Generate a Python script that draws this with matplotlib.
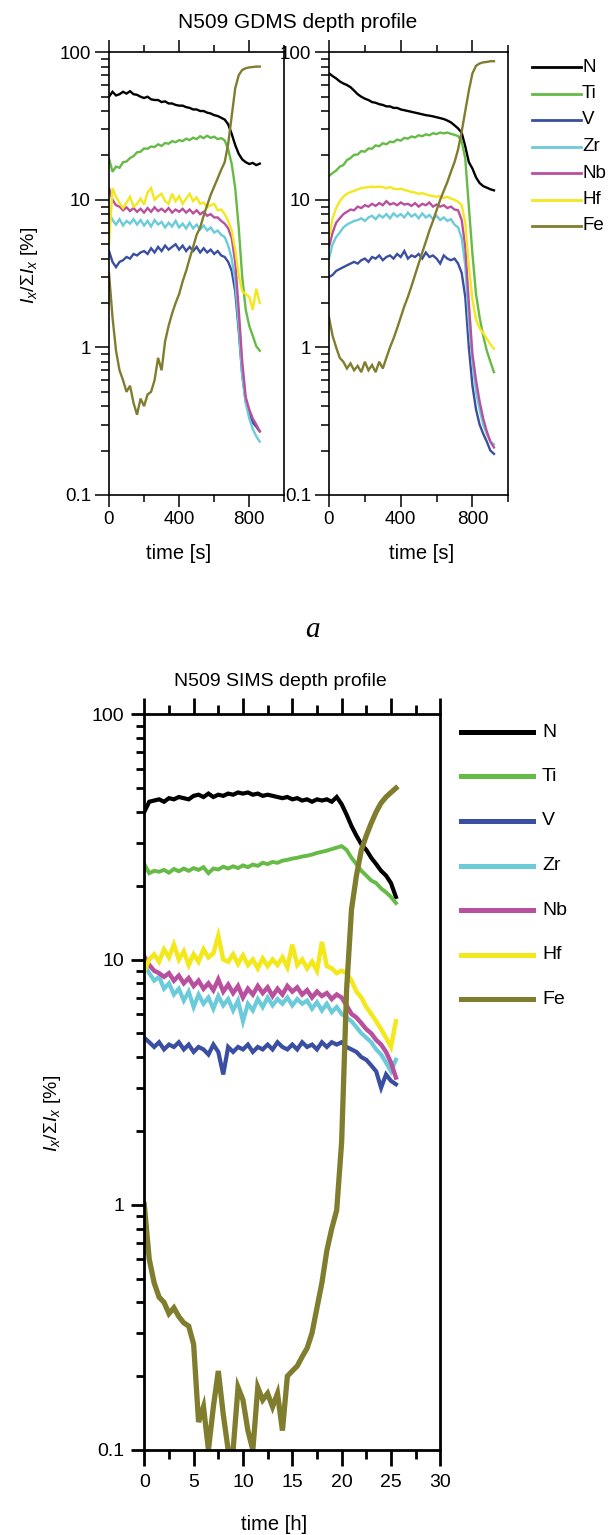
import matplotlib
matplotlib.use('Agg')
import matplotlib.pyplot as plt
from matplotlib.lines import Line2D
from matplotlib.ticker import FixedLocator, FixedFormatter, NullFormatter

plt.rcParams['font.family'] = ['Liberation Sans', 'DejaVu Sans']
plt.rcParams['mathtext.fontset'] = 'custom'
plt.rcParams['mathtext.rm'] = 'Liberation Sans'
plt.rcParams['mathtext.it'] = 'Liberation Sans:italic'
plt.rcParams['mathtext.bf'] = 'Liberation Sans:bold'

# ---------------- data ----------------
elements = ['N', 'Ti', 'V', 'Zr', 'Nb', 'Hf', 'Fe']
colors = ['#000000', '#66bb46', '#3a4ea2', '#6ccbdb', '#b9509e', '#f2e81c', '#807d2e']

# GDMS left panel, time [s]
t1 = list(range(0, 861, 20))
N1 = [50, 54, 51, 52, 54, 52.5, 54.5, 52, 51.5, 50, 49, 50, 48, 47.5, 47.5, 46, 46.5, 45, 45, 44,
      43.5, 43.5, 42.5, 42, 41, 41, 40, 40, 39, 38.5, 37.5, 37, 36, 35, 32.5, 28, 23.5, 20.5, 18.8, 18,
      17.5, 17.8, 17.2, 17.6]
Ti1 = [19, 15.5, 16.8, 16.5, 18, 18.2, 19.2, 19.8, 21, 21.2, 22.3, 22.2, 23, 22.8, 23.8, 23.2, 24.3, 24,
       25, 24.6, 25.4, 25, 26, 25.4, 26.4, 25.8, 27, 26.2, 27.2, 26.3, 26.8, 25.8, 26.2, 25.3, 22, 17.5,
       12, 6.5, 3.0, 1.8, 1.4, 1.2, 1.02, 0.95]
V1 = [4.5, 3.8, 3.5, 3.8, 3.9, 4.1, 4.0, 4.3, 4.2, 4.4, 4.5, 4.3, 4.7, 4.4, 4.8, 4.5, 4.9, 4.6, 4.8, 5.0,
      4.6, 4.9, 4.5, 4.8, 4.5, 4.8, 4.4, 4.7, 4.4, 4.6, 4.3, 4.5, 4.2, 4.1, 3.8, 3.3, 2.4, 1.3, 0.65, 0.43,
      0.36, 0.31, 0.29, 0.27]
Zr1 = [8.2, 7.3, 6.8, 7.4, 6.7, 7.2, 6.9, 7.4, 6.8, 7.3, 6.7, 7.2, 6.6, 7.3, 6.8, 7.1, 6.5, 7.0, 6.6, 7.2,
       6.5, 6.9, 6.4, 7.0, 6.4, 6.8, 6.3, 6.7, 6.2, 6.5, 6.0, 6.2, 5.8, 5.6, 4.9, 4.0, 2.8, 1.4, 0.65, 0.42,
       0.33, 0.28, 0.25, 0.23]
Nb1 = [12, 10, 9.2, 9.0, 8.5, 8.9, 8.4, 8.8, 8.3, 8.7, 8.2, 8.8, 8.3, 8.9, 8.4, 8.7, 8.3, 8.8, 8.2, 8.6,
       8.3, 8.7, 8.2, 8.6, 8.1, 8.5, 8.0, 8.3, 7.8, 8.0, 7.6, 7.6, 7.2, 6.9, 6.4, 5.5, 3.8, 1.8, 0.8, 0.46,
       0.38, 0.33, 0.3, 0.27]
Hf1 = [5, 12, 10.5, 9.5, 8.8, 9.6, 10.5, 9.0, 9.4, 10.2, 9.3, 11.2, 12, 10, 10.6, 11, 9.8, 9.4, 11, 9.8,
       10.6, 9.4, 10.2, 11, 9.8, 10.4, 9.4, 9.6, 8.9, 9.2, 9.4, 8.5, 8.6, 8.0, 7.2, 6.2, 4.6, 3.1, 2.4, 2.3,
       2.2, 1.8, 2.5, 2.0]
Fe1 = [3.2, 1.6, 0.95, 0.7, 0.6, 0.5, 0.55, 0.42, 0.35, 0.45, 0.4, 0.48, 0.5, 0.6, 0.85, 0.7, 1.1, 1.4,
       1.7, 2.0, 2.3, 2.8, 3.3, 4.0, 4.8, 5.8, 6.5, 7.8, 9.2, 10.8, 12.3, 14, 16, 18, 24, 37, 57, 70, 76,
       78, 79, 79.5, 80, 80]

# GDMS right panel, time [s]
t2 = list(range(0, 921, 20))
N2 = [72, 69, 66.5, 63.5, 61.5, 60, 58, 55, 52, 50, 48.5, 47.5, 46, 45.5, 44.5, 44, 43, 43, 42, 42, 41,
      40.5, 40, 39.5, 39, 38.5, 38, 37.5, 37.2, 36.8, 36.3, 35.8, 35.3, 34.5, 33.5, 32, 30.5, 28.5, 23, 18,
      16.3, 14.2, 13, 12.4, 12.1, 11.8, 11.6]
Ti2 = [14.5, 15.2, 15.8, 16.8, 17.2, 18.6, 19.2, 20.2, 20.3, 21.4, 21.2, 22.3, 22.2, 23.4, 23.1, 24.2,
       23.8, 24.8, 24.6, 25.6, 25.2, 26.3, 26, 26.9, 26.5, 27.4, 27, 27.8, 27.4, 28.3, 27.9, 28.6, 28.2,
       28.6, 28, 27.6, 27, 25, 19, 9, 4.3, 2.3, 1.6, 1.2, 0.95, 0.8, 0.68]
V2 = [3.0, 3.1, 3.3, 3.4, 3.5, 3.6, 3.7, 3.8, 3.7, 3.9, 4.0, 3.8, 4.1, 4.0, 4.2, 3.9, 4.1, 4.2, 4.0, 4.3,
      4.1, 4.5, 4.0, 4.2, 4.1, 4.3, 4.0, 4.4, 4.1, 4.2, 4.0, 3.7, 4.2, 4.0, 3.9, 4.0, 3.7, 3.2, 2.2, 1.0,
      0.55, 0.38, 0.3, 0.26, 0.23, 0.2, 0.19]
Zr2 = [4.0, 5.0, 5.6, 6.0, 6.5, 6.8, 7.0, 7.2, 7.3, 7.5, 7.2, 7.6, 7.8, 7.4, 7.9, 7.6, 8.0, 7.5, 8.1, 7.7,
       8.0, 7.6, 8.2, 7.7, 8.0, 7.5, 8.1, 7.6, 7.9, 7.4, 7.8, 7.3, 7.6, 7.2, 7.4, 6.8, 6.5, 5.5, 3.6, 1.5,
       0.8, 0.5, 0.38, 0.3, 0.26, 0.23, 0.22]
Nb2 = [4.8, 6.0, 7.0, 7.5, 8.0, 8.3, 8.6, 8.5, 9.0, 8.8, 9.2, 9.0, 9.4, 9.1, 9.5, 9.2, 9.8, 9.3, 9.5, 9.2,
       9.6, 9.3, 9.4, 9.1, 9.5, 9.0, 9.4, 9.2, 9.6, 9.0, 9.3, 9.0, 9.2, 8.8, 9.0, 8.6, 8.5, 7.3, 4.8, 2.0,
       0.9, 0.6, 0.43, 0.33, 0.27, 0.23, 0.21]
Hf2 = [5.5, 7.5, 8.8, 9.8, 10.5, 11.0, 11.3, 11.5, 11.8, 12.0, 12.1, 12.2, 12.3, 12.2, 12.3, 12.2, 12.0,
       12.2, 11.9, 11.8, 11.9, 11.7, 11.5, 11.3, 11.2, 11.0, 11.1, 10.9, 10.7, 10.6, 10.5, 10.6, 10.3, 10.5,
       10.2, 10.0, 9.7, 9.2, 7.0, 3.6, 2.1, 1.55, 1.35, 1.25, 1.15, 1.05, 0.98]
Fe2 = [1.6, 1.2, 1.0, 0.85, 0.8, 0.72, 0.78, 0.7, 0.75, 0.68, 0.8, 0.7, 0.76, 0.68, 0.8, 0.72, 0.85, 1.0,
       1.15, 1.35, 1.6, 1.9, 2.2, 2.6, 3.1, 3.7, 4.4, 5.2, 6.2, 7.2, 8.5, 10, 11.5, 13.2, 15.5, 18, 22, 29,
       40, 55, 72, 81, 84, 85.5, 86, 87, 87]

# SIMS panel, time [h]
t3 = [i * 0.5 for i in range(52)]
N3 = [40, 44, 44.5, 45, 44, 45.5, 45, 46, 45.5, 45, 46.5, 47, 46, 47.5, 46, 47, 46.5, 47.5, 47, 48, 47.5,
      48, 47, 47.5, 46.5, 47, 46.5, 46, 45.5, 46, 45, 45.5, 44.5, 45, 44, 45, 44.5, 45, 44, 46, 43, 39, 35,
      32, 29.5, 28, 26, 24.5, 23, 22, 20.5, 18]
Ti3 = [24.5, 22.5, 23, 22.8, 23.2, 22.6, 23.4, 22.9, 23.5, 23, 23.6, 23.2, 23.8, 22.5, 23.5, 23.3, 23.9,
       23.5, 24, 23.6, 24.2, 23.8, 24.4, 24.1, 24.8, 24.5, 25, 24.8, 25.3, 25.5, 25.8, 26, 26.3, 26.5, 26.8,
       27.2, 27.5, 27.8, 28.2, 28.6, 29, 28, 26, 24.5, 23, 22, 21, 20.5, 19.5, 18.8, 18, 17]
V3 = [4.8, 4.6, 4.4, 4.6, 4.3, 4.5, 4.4, 4.6, 4.3, 4.5, 4.2, 4.4, 4.3, 4.1, 4.5, 4.2, 3.4, 4.4, 4.2, 4.4,
      4.3, 4.5, 4.2, 4.4, 4.3, 4.5, 4.3, 4.6, 4.4, 4.3, 4.5, 4.3, 4.6, 4.4, 4.5, 4.3, 4.6, 4.4, 4.6, 4.5,
      4.6, 4.4, 4.3, 4.2, 4.0, 3.9, 3.7, 3.5, 3.0, 3.4, 3.2, 3.1]
Zr3 = [9.5, 8.8, 8.2, 8.5, 7.6, 8.0, 7.2, 7.6, 6.8, 7.4, 6.4, 7.2, 6.6, 7.0, 6.3, 7.1, 6.5, 6.9, 6.2, 6.8,
       5.6, 6.6, 6.2, 6.9, 6.4, 7.0, 6.5, 6.9, 6.6, 7.0, 6.5, 6.9, 6.6, 6.8, 6.3, 6.7, 6.2, 6.6, 6.1, 6.4,
       6.0, 5.8, 5.6, 5.3, 5.0, 4.8, 4.6, 4.3, 4.1, 3.8, 3.5, 3.9]
Nb3 = [10.3, 9.5, 9.0, 8.8, 8.5, 8.8, 8.2, 8.6, 8.0, 8.4, 7.8, 8.2, 7.6, 8.0, 7.5, 8.3, 7.4, 7.9, 7.3, 7.8,
       7.0, 7.6, 7.2, 7.8, 7.3, 7.7, 7.1, 7.6, 7.2, 7.8, 7.4, 7.7, 7.2, 7.5, 7.0, 7.4, 7.1, 7.3, 6.9, 7.2,
       7.0, 6.5, 6.0, 5.8, 5.5, 5.2, 5.0, 4.7, 4.5, 4.2, 3.8, 3.3]
Hf3 = [9.0, 10.0, 10.5, 9.8, 11.0, 10.2, 11.5, 10.0, 10.8, 9.5, 10.5, 9.8, 11.0, 10.2, 10.6, 12.5, 10.0,
       9.8, 10.5, 9.6, 10.4, 9.5, 10.0, 9.2, 10.1, 9.4, 10.0, 9.5, 10.2, 9.3, 11.5, 9.5, 10.0, 9.2, 9.8,
       9.0, 11.8, 9.4, 9.2, 8.8, 9.0, 8.8, 8.2, 7.4, 7.0, 6.4, 6.0, 5.6, 5.2, 4.8, 4.4, 5.6]
Fe3 = [1.0, 0.6, 0.48, 0.42, 0.4, 0.36, 0.38, 0.35, 0.33, 0.32, 0.27, 0.13, 0.15, 0.1, 0.15, 0.21, 0.14,
       0.1, 0.1, 0.18, 0.16, 0.12, 0.1, 0.18, 0.16, 0.17, 0.15, 0.17, 0.12, 0.2, 0.21, 0.22, 0.24, 0.26,
       0.3, 0.38, 0.48, 0.65, 0.8, 0.95, 1.8, 7.5, 16, 22, 28, 32, 36, 40, 43.5, 46, 48, 50]

ytick_vals = [0.1, 1, 10, 100]
ytick_labels = ['0.1', '1', '10', '100']

# ---------------- figure ----------------
W, H = 611, 1535
fig = plt.figure(figsize=(W / 100, H / 100), dpi=100)


def px_axes(l, t, r, b):
    return fig.add_axes([l / W, 1 - b / H, (r - l) / W, (b - t) / H])


def setup_log_y(ax):
    ax.set_yscale('log')
    ax.set_ylim(0.1, 100)
    ax.yaxis.set_major_locator(FixedLocator(ytick_vals))
    ax.yaxis.set_major_formatter(FixedFormatter(ytick_labels))
    minors = [m * 10.0 ** e for e in (-1, 0, 1) for m in range(2, 10)]
    ax.yaxis.set_minor_locator(FixedLocator(minors))
    ax.yaxis.set_minor_formatter(NullFormatter())


ax1 = px_axes(109, 52.3, 284.3, 495)
ax2 = px_axes(329, 52.3, 508.3, 495)
ax3 = px_axes(144.3, 714.3, 440.3, 1450)

for ax, t, series in ((ax1, t1, [N1, Ti1, V1, Zr1, Nb1, Hf1, Fe1]),
                      (ax2, t2, [N2, Ti2, V2, Zr2, Nb2, Hf2, Fe2])):
    for name, col, vals in zip(elements, colors, series):
        ax.plot(t, vals, color=col, lw=1.7, solid_joinstyle='miter')
    setup_log_y(ax)
    ax.set_xlim(0, 1000)
    ax.xaxis.set_major_locator(FixedLocator([0, 400, 800]))
    ax.xaxis.set_minor_locator(FixedLocator([200, 600, 1000]))
    ax.tick_params(axis='x', which='both', direction='out', top=True, bottom=True,
                   labeltop=False, width=1.1, labelsize=13.5, pad=3)
    ax.tick_params(axis='x', which='major', length=8.5)
    ax.tick_params(axis='x', which='minor', length=5)
    ax.tick_params(axis='y', which='both', direction='out', left=True, right=False,
                   width=1.1, labelsize=13.5, pad=3)
    ax.tick_params(axis='y', which='major', length=10)
    ax.tick_params(axis='y', which='minor', length=6)
    for sp in ax.spines.values():
        sp.set_linewidth(1.2)

lw3 = [3.0, 2.8, 3.0, 3.0, 3.2, 3.2, 3.8]
for name, col, vals, lw in zip(elements, colors, [N3, Ti3, V3, Zr3, Nb3, Hf3, Fe3], lw3):
    ax3.plot(t3, vals, color=col, lw=lw, solid_joinstyle='miter')
setup_log_y(ax3)
ax3.set_xlim(0, 30)
ax3.xaxis.set_major_locator(FixedLocator([0, 5, 10, 15, 20, 25, 30]))
ax3.xaxis.set_minor_locator(FixedLocator([2.5, 7.5, 12.5, 17.5, 22.5, 27.5]))
ax3.tick_params(axis='x', which='both', direction='out', top=True, bottom=True,
                labeltop=False, width=2.0, labelsize=14, pad=6)
ax3.tick_params(axis='x', which='major', length=11.5)
ax3.tick_params(axis='x', which='minor', length=6.5)
ax3.tick_params(axis='y', which='both', direction='out', left=True, right=False,
                width=2.0, labelsize=14, pad=5)
ax3.tick_params(axis='y', which='major', length=9.5)
ax3.tick_params(axis='y', which='minor', length=6)
for sp in ax3.spines.values():
    sp.set_linewidth(2.0)

# ---------------- legends (figure pixel coordinates) ----------------
def fx(x):
    return x / W


def fy(y):
    return 1 - y / H


leg_top_y = [67, 93.5, 120, 146.5, 173, 199.5, 226]
for name, col, y in zip(elements, colors, leg_top_y):
    fig.add_artist(Line2D([fx(532), fx(581)], [fy(y), fy(y)], color=col, lw=2.0,
                          transform=fig.transFigure))
    fig.text(fx(582), fy(y), name, fontsize=13.5, ha='left', va='center')

leg_bot_y = [732, 776.5, 821, 865.5, 910, 954.5, 999]
for name, col, y in zip(elements, colors, leg_bot_y):
    fig.add_artist(Line2D([fx(461), fx(533)], [fy(y), fy(y)], color=col, lw=3.6,
                          transform=fig.transFigure))
    fig.text(fx(542), fy(y), name, fontsize=14, ha='left', va='center')

# ---------------- texts ----------------
ylab = r'$I_x/\Sigma I_x$ [%]'
fig.text(fx(298), fy(22), 'N509 GDMS depth profile', fontsize=15, ha='center', va='center')
fig.text(fx(29), fy(265), ylab, fontsize=14, rotation=90, ha='center', va='center')
fig.text(fx(179), fy(553), 'time [s]', fontsize=14.5, ha='center', va='center')
fig.text(fx(422), fy(553), 'time [s]', fontsize=14.5, ha='center', va='center')
fig.text(fx(312), fy(630), 'a', fontsize=21, ha='center', va='center',
         family='Liberation Serif', style='italic')
fig.text(fx(280), fy(681), 'N509 SIMS depth profile', fontsize=14, ha='center', va='center')
fig.text(fx(53), fy(1113), ylab, fontsize=14, rotation=90, ha='center', va='center')
fig.text(fx(274), fy(1525), 'time [h]', fontsize=14.5, ha='center', va='center')

fig.savefig('out.png', dpi=100)
